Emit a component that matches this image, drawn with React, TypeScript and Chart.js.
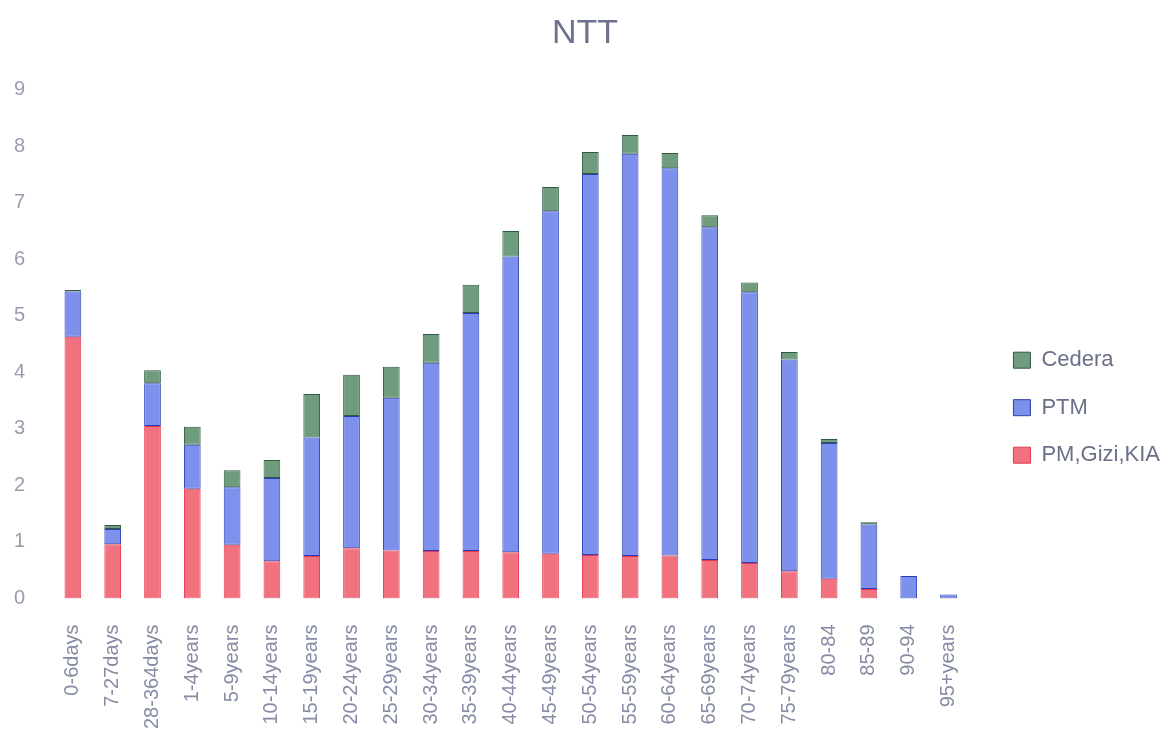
import React, { useEffect, useRef } from "react";
import { Chart, registerables } from "chart.js";

Chart.register(...registerables);

// Age groups along the x axis
const ageGroups = [
  "0-6days", "7-27days", "28-364days", "1-4years", "5-9years", "10-14years",
  "15-19years", "20-24years", "25-29years", "30-34years", "35-39years",
  "40-44years", "45-49years", "50-54years", "55-59years", "60-64years",
  "65-69years", "70-74years", "75-79years", "80-84", "85-89", "90-94", "95+years",
];

// Stacked series, bottom to top
const pmGiziKia = [
  4.63, 0.96, 3.05, 1.94, 0.95, 0.66, 0.75, 0.89, 0.85, 0.84, 0.84, 0.82,
  0.79, 0.77, 0.75, 0.76, 0.68, 0.63, 0.48, 0.35, 0.17, 0, 0,
];
const ptm = [
  0.8, 0.27, 0.76, 0.78, 1.02, 1.47, 2.1, 2.34, 2.7, 3.33, 4.21, 5.23,
  6.06, 6.74, 7.12, 6.85, 5.89, 4.79, 3.75, 2.4, 1.14, 0.4, 0.07,
];
const cedera = [
  0.03, 0.07, 0.23, 0.32, 0.3, 0.32, 0.77, 0.73, 0.55, 0.51, 0.5, 0.45,
  0.43, 0.39, 0.33, 0.27, 0.21, 0.17, 0.13, 0.07, 0.04, 0, 0,
];

const yTicks = [0, 1, 2, 3, 4, 5, 6, 7, 8, 9];

const FONT = "'Liberation Sans', Arial, sans-serif";

export default function App() {
  const canvasRef = useRef<HTMLCanvasElement | null>(null);

  useEffect(() => {
    const canvas = canvasRef.current;
    if (!canvas) return;
    const chart = new Chart(canvas, {
      type: "bar",
      data: {
        labels: ageGroups,
        datasets: [
          {
            label: "PM,Gizi,KIA",
            data: pmGiziKia,
            backgroundColor: "#f2717f",
            borderColor: "#e03a52",
            borderWidth: 1,
          },
          {
            label: "PTM",
            data: ptm,
            backgroundColor: "#7d90ec",
            borderColor: "#2b3db6",
            borderWidth: 1,
          },
          {
            label: "Cedera",
            data: cedera,
            backgroundColor: "#6f9c7d",
            borderColor: "#2f5a42",
            borderWidth: 1,
          },
        ],
      },
      options: {
        responsive: false,
        animation: false,
        layout: { padding: 0 },
        datasets: {
          bar: { barPercentage: 0.42, categoryPercentage: 1, borderSkipped: false },
        },
        plugins: {
          title: {
            display: true,
            text: "NTT",
            color: "#6c7290",
            font: { family: FONT, size: 34, weight: "normal" },
            padding: { top: 13, bottom: 36 },
          },
          legend: {
            position: "right",
            reverse: true,
            title: {
              display: true,
              text: " ",
              font: { size: 12 },
              padding: { top: 70, bottom: 0 },
            },
            labels: {
              boxWidth: 17,
              boxHeight: 16,
              padding: 25.5,
              color: "#6a7088",
              font: { family: FONT, size: 22 },
            },
          },
          tooltip: { enabled: false },
        },
        scales: {
          x: {
            stacked: true,
            grid: { display: false, drawTicks: false },
            border: { display: false },
            ticks: {
              autoSkip: false,
              minRotation: 90,
              maxRotation: 90,
              padding: 26,
              color: "#868ca4",
              font: { family: FONT, size: 20 },
            },
            afterFit: (scale: any) => {
              scale.height = 132.5;
            },
          },
          y: {
            stacked: true,
            min: 0,
            max: 9,
            afterBuildTicks: (scale: any) => {
              scale.ticks = yTicks.map((v) => ({ value: v }));
            },
            grid: { display: false, drawTicks: false },
            border: { display: false },
            ticks: {
              padding: 28,
              color: "#9a9cae",
              font: { family: FONT, size: 20 },
            },
            afterFit: (scale: any) => {
              scale.width = 53;
            },
          },
          gap: {
            type: "linear",
            axis: "y",
            position: "right",
            display: true,
            grid: { display: false, drawTicks: false },
            border: { display: false },
            ticks: { display: false },
            afterFit: (scale: any) => {
              scale.width = 19.5;
            },
          },
        },
      },
    });
    return () => chart.destroy();
  }, []);

  return (
    <div
      style={{
        position: "absolute",
        left: 0,
        top: 0,
        width: 1170,
        height: 731,
        background: "#ffffff",
      }}
    >
      <canvas ref={canvasRef} width={1170} height={731} style={{ display: "block" }} />
    </div>
  );
}
